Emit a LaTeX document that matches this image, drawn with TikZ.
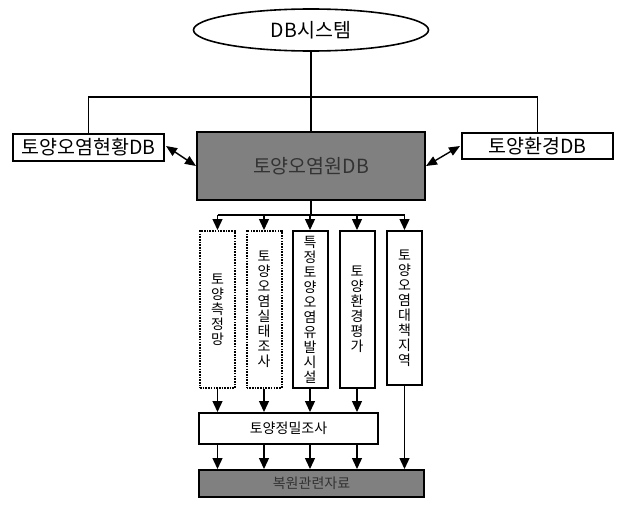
\documentclass[tikz,border=0pt]{standalone}
\usepackage{fontspec}
\setmainfont{Noto Sans CJK KR}
\usetikzlibrary{shapes.geometric,arrows.meta}
\tikzset{
  box/.style={draw=black,line width=2pt,inner sep=0pt,align=center},
  darkbox/.style={box,fill=black!50,text=black!80},
  dotbox/.style={box,dash pattern=on 1.6pt off 1.1pt},
  bigtxt/.style={font=\fontsize{19.5}{21}\selectfont},
  vtxt/.style={font=\fontsize{14}{15}\selectfont},
  smtxt/.style={font=\fontsize{14}{16}\selectfont},
  conn/.style={line width=1.4pt},
  arr/.style={conn,-{Triangle[length=11pt,width=10pt]}},
  darr/.style={conn,{Triangle[length=11pt,width=9pt]}-{Triangle[length=11pt,width=9pt]}}
}
\begin{document}
\begin{tikzpicture}[x=1pt,y=-1pt]
\useasboundingbox (0,0) rectangle (619,506);
% top
\node[ellipse,draw=black,line width=1.6pt,minimum width=235,minimum height=42,inner sep=0pt,bigtxt] (sys) at (311,30) {DB시스템};
\coordinate (j) at (311,97);
\node[box,bigtxt,minimum width=151,minimum height=27] (lbox) at (88.5,147) {토양오염현황DB};
\node[box,bigtxt,minimum width=151,minimum height=26] (rbox) at (537.5,146) {토양환경DB};
\node[darkbox,bigtxt,minimum width=228,minimum height=68] (src) at (311,166) {토양오염원DB};
\draw[conn] (sys.south) -- (j);
\draw[conn] (lbox.north) |- (j) -| (rbox.north);
\draw[conn] (j) -- (src.north);
\draw[darr] (lbox.east) ++(1,-1) coordinate (la) (la) -- (src.west);
\draw[darr] (src.east) -- ([xshift=-1]rbox.west);
% branches
\coordinate (d) at (311,215);
\node[dotbox,vtxt,minimum width=35,minimum height=157] (b1) at (217.5,309.5) {토\\양\\측\\정\\망};
\node[dotbox,vtxt,minimum width=35,minimum height=157] (b2) at (264,309.5) {토\\양\\오\\염\\실\\태\\조\\사};
\node[box,vtxt,minimum width=35,minimum height=157] (b3) at (310,309.5) {특\\정\\토\\양\\오\\염\\유\\발\\시\\설};
\node[box,vtxt,minimum width=35,minimum height=157] (b4) at (357,309.5) {토\\양\\환\\경\\평\\가};
\node[box,vtxt,minimum width=35,minimum height=154] (b5) at (404.5,308) {토\\양\\오\\염\\대\\책\\지\\역};
\draw[conn] (src.south) -- (d);
\draw[conn] (b1.north |- d) -- (b5.north |- d);
\foreach \b in {b1,b2,b3,b4,b5} {\draw[arr] (\b.north |- d) -- (\b.north);}
% detailed survey
\node[box,smtxt,minimum width=179,minimum height=31] (det) at (288.5,428.5) {토양정밀조사};
\node[darkbox,smtxt,minimum width=225,minimum height=27] (res) at (311.5,483.5) {복원관련자료};
\foreach \b in {b1,b2,b3,b4} {
  \draw[arr] (\b.south) -- (\b.south |- det.north);
  \draw[arr] (\b.south |- det.south) -- (\b.south |- res.north);
}
\draw[arr] (b5.south) -- (b5.south |- res.north);
\end{tikzpicture}
\end{document}
